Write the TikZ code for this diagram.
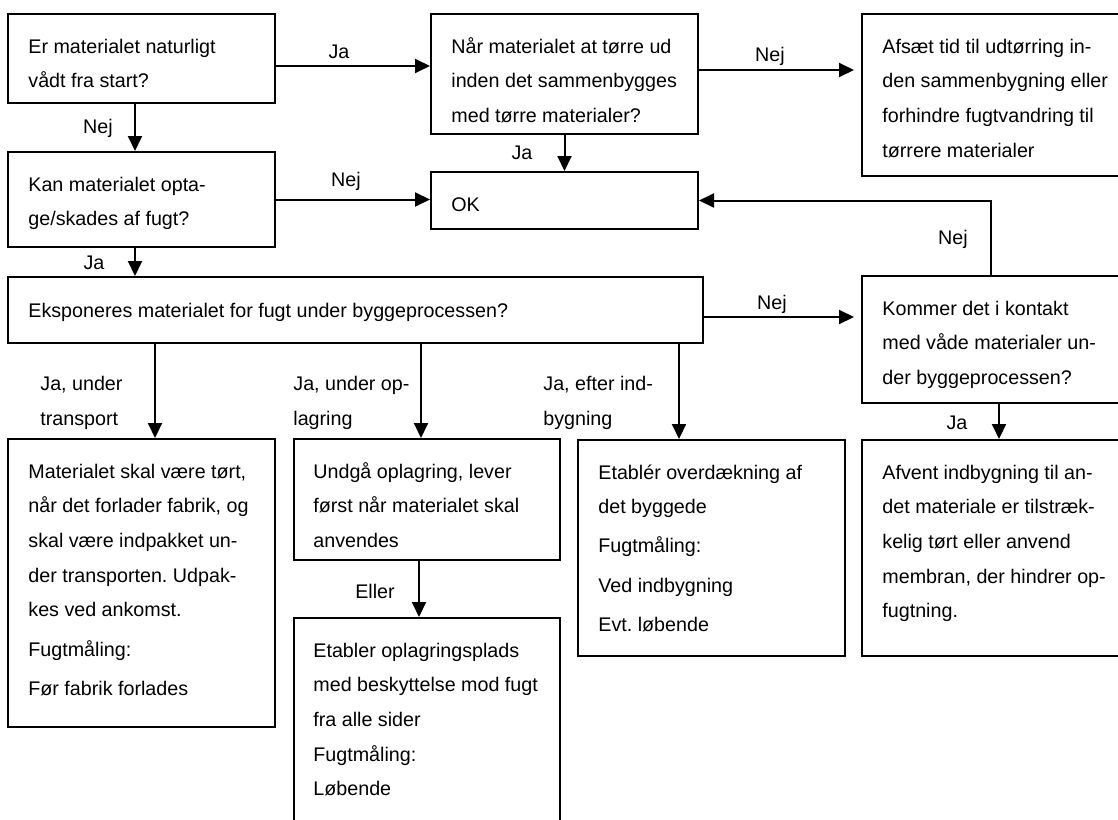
\documentclass[tikz,border=0pt]{standalone}
\usepackage{fontspec}
\setmainfont{Liberation Sans}
\usetikzlibrary{fit,arrows.meta}
\frenchspacing

\newcommand{\fs}{\fontsize{9.85pt}{17.3pt}\selectfont}

\tikzset{
  box/.style={draw, line width=1pt, inner sep=0pt},
  txt/.style={anchor=north west, inner sep=0pt, align=left, font=\fs},
  lab/.style={inner sep=0pt, align=left, font=\fs},
  arr/.style={line width=1pt, -{Triangle[length=7.5pt,width=7pt]}}
}

\begin{document}
\begin{tikzpicture}[x=0.5pt,y=-0.5pt]
  \path[use as bounding box, fill=white] (0,0) rectangle (1118,819);
  \clip (0,0) rectangle (1118,819);

  \node[box, fit={(8,14) (275,103)}] (a) {};
  \node[box, fit={(431,14) (698,134)}] (b) {};
  \node[box, fit={(862,14) (1145,176)}] (afs) {};
  \node[box, fit={(8,152) (275,247)}] (kan) {};
  \node[box, fit={(431,172) (698,229)}] (ok) {};
  \node[box, fit={(8,277) (703,343)}] (d) {};
  \node[box, fit={(862,276) (1145,403)}] (kom) {};
  \node[box, fit={(8,439) (275,727)}] (mat) {};
  \node[box, fit={(294,439) (560,560)}] (und) {};
  \node[box, fit={(294,618) (560,840)}] (opl) {};
  \node[box, fit={(578,440) (845,656)}] (eta) {};
  \node[box, fit={(862,440) (1145,656)}] (afv) {};

  \node[txt] (ta) at ([xshift=10.5pt,yshift=-7.8pt]a.north west) {\strut Er materialet naturligt\\vådt fra start?};
  \node[txt] (tb) at ([xshift=10.5pt,yshift=-7.8pt]b.north west) {\strut Når materialet at tørre ud\\inden det sammenbygges\\med tørre materialer?};
  \node[txt] (tafs) at ([xshift=10.5pt,yshift=-7.8pt]afs.north west) {\strut Afsæt tid til udtørring in-\\den sammenbygning eller\\forhindre fugtvandring til\\tørrere materialer};
  \node[txt] (tkan) at ([xshift=10.5pt,yshift=-7.8pt]kan.north west) {\strut Kan materialet opta-\\ge/skades af fugt?};
  \node[txt] (tok) at ([xshift=10.5pt,yshift=-7.8pt]ok.north west) {\strut OK};
  \node[txt] (td) at ([xshift=10.5pt,yshift=-8.3pt]d.north west) {\strut Eksponeres materialet for fugt under byggeprocessen?};
  \node[txt] (tkom) at ([xshift=10.5pt,yshift=-7.8pt]kom.north west) {\strut Kommer det i kontakt\\med våde materialer un-\\der byggeprocessen?};
  \node[txt] (tmat) at ([xshift=10.5pt,yshift=-7.8pt]mat.north west) {\strut Materialet skal være tørt,\\når det forlader fabrik, og\\skal være indpakket un-\\der transporten. Udpak-\\kes ved ankomst.\\[2.5pt]Fugtmåling:\\[2.5pt]Før fabrik forlades};
  \node[txt] (tund) at ([xshift=10pt,yshift=-7.8pt]und.north west) {\strut Undgå oplagring, lever\\først når materialet skal\\anvendes};
  \node[txt] (topl) at ([xshift=10pt,yshift=-7.8pt]opl.north west) {\strut Etabler oplagringsplads\\med beskyttelse mod fugt\\fra alle sider\\Fugtmåling:\\Løbende};
  \node[txt] (teta) at ([xshift=10.5pt,yshift=-7.8pt]eta.north west) {\strut Etablér overdækning af\\det byggede\\[2pt]Fugtmåling:\\[2.5pt]Ved indbygning\\[2.5pt]Evt. løbende};
  \node[txt] (tafv) at ([xshift=10.5pt,yshift=-7.8pt]afv.north west) {\strut Afvent indbygning til an-\\det materiale er tilstræk-\\kelig tørt eller anvend\\membran, der hindrer op-\\fugtning.};

  \draw[arr] ([yshift=-3.75pt]a.east) -- ([yshift=-3.75pt]a.east -| b.west);
  \draw[arr, shorten >=3.5pt] ([yshift=2pt]b.east) -- ([yshift=2pt]b.east -| afs.west);
  \draw[arr] ([xshift=-3.25pt]a.south) -- ([xshift=-3.25pt]a.south |- kan.north);
  \draw[arr] (kan.east) -- (kan.east -| ok.west);
  \draw[arr] (b.south) -- (ok.north);
  \draw[arr] ([xshift=-3.25pt]kan.south) -- ([xshift=-3.25pt]kan.south |- d.north);
  \draw[arr] ([xshift=-6.25pt]kom.north) |- (ok.east);
  \draw[arr, shorten >=3.5pt] ([yshift=-3.5pt]d.east) -- ([yshift=-3.5pt]d.east -| kom.west);
  \draw[arr] ([xshift=6.75pt]mat.north |- d.south) -- ([xshift=6.75pt]mat.north);
  \draw[arr] ([xshift=-3pt]und.north |- d.south) -- ([xshift=-3pt]und.north);
  \draw[arr] ([xshift=-16.25pt]eta.north |- d.south) -- ([xshift=-16.25pt]eta.north);
  \draw[arr] ([xshift=-4pt]und.south) -- ([xshift=-4pt]und.south |- opl.north);
  \draw[arr] ([xshift=-2.25pt]kom.south) -- ([xshift=-2.25pt]afv.north);

  \node[lab] (l1) at (339,52) {Ja};
  \node[lab] (l2) at (98,128) {Nej};
  \node[lab] (l3) at (770,56) {Nej};
  \node[lab] (l4) at (522,153) {Ja};
  \node[lab] (l5) at (346,181) {Nej};
  \node[lab] (l6) at (94,263) {Ja};
  \node[lab] (l7) at (953,239) {Nej};
  \node[lab] (l8) at (772,304) {Nej};
  \node[lab, anchor=west] (l9) at (40,403) {Ja, under\\transport};
  \node[lab, anchor=west] (l10) at (293,403) {Ja, under op-\\lagring};
  \node[lab, anchor=west] (l11) at (543,403) {Ja, efter ind-\\bygning};
  \node[lab] (l12) at (375,591) {Eller};
  \node[lab] (l13) at (957,423) {Ja};

\end{tikzpicture}
\end{document}
